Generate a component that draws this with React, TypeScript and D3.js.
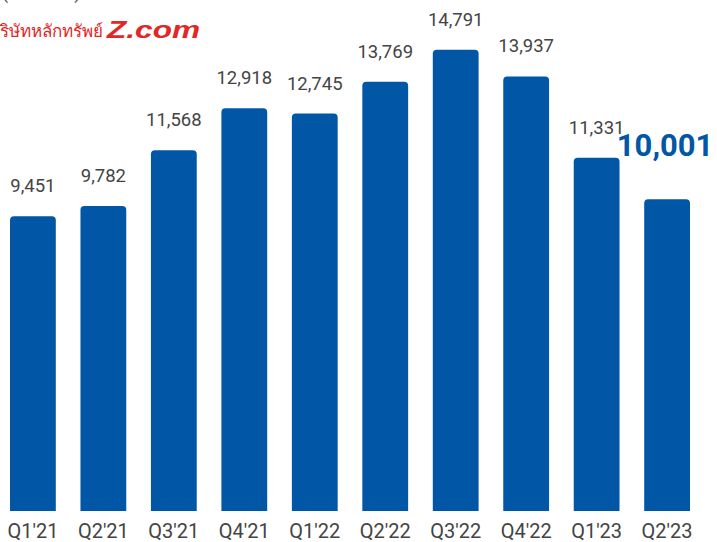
import React from "react";
import * as d3 from "d3";

const categories = ["Q1'21", "Q2'21", "Q3'21", "Q4'21", "Q1'22", "Q2'22", "Q3'22", "Q4'22", "Q1'23", "Q2'23"];
const values = [9451, 9782, 11568, 12918, 12745, 13769, 14791, 13937, 11331, 10001];
const brandThai = "บริษัทหลักทรัพย์";
const brandLatin = "Z.com";
const unitText = "(ล้านบาท)";

const W = 717;
const H = 542;
const BAR = "#0256a6";
const TXT = "#444444";
const RED = "#e32626";

function topRounded(x: number, y: number, w: number, h: number, r: number) {
  const rr = Math.min(r, w / 2, h);
  return `M${x},${y + h}V${y + rr}Q${x},${y} ${x + rr},${y}H${x + w - rr}Q${x + w},${y} ${x + w},${y + rr}V${y + h}Z`;
}

export default function App() {
  const x = d3.scaleBand<string>().domain(categories).range([10, 690]).paddingInner(0.35).paddingOuter(0);
  const y = d3.scaleLinear().domain([0, 15000]).range([511, 511 - 15000 * 0.03118]);
  const fmt = d3.format(",");
  const last = categories.length - 1;

  return (
    <div style={{ position: "absolute", left: 0, top: 0 }}>
      <svg width={W} height={H} style={{ display: "block", fontFamily: "Roboto, sans-serif" }}>
        <rect width={W} height={H} fill="#fff" />
        <text x={2} y={-1} fontSize={18} fill="#555">{unitText}</text>
        <text x={-11} y={37} fontSize={17} fill={RED} fontFamily="'Noto Sans', sans-serif">{brandThai}</text>
        <text x={107} y={38} fontSize={23} fontWeight={900} fontStyle="italic" fill={RED}
          fontFamily="'Liberation Sans', Arial, sans-serif" textLength={93} lengthAdjust="spacingAndGlyphs">{brandLatin}</text>
        {categories.map((c, i) => {
          const bx = x(c)!;
          const bw = x.bandwidth();
          const v = values[i];
          const top = y(v);
          const cx = bx + bw / 2;
          return (
            <g key={c}>
              <path d={topRounded(bx, top, bw, y(0) - top, 4)} fill={BAR} />
              {i === last ? (
                <text x={cx - 2} y={156} textAnchor="middle" fontSize={31} fontWeight={700} fill={BAR}>{fmt(v)}</text>
              ) : (
                <text x={cx} y={top - 24} textAnchor="middle" fontSize={18.5} fill={TXT}>{fmt(v)}</text>
              )}
              <text x={cx} y={538} textAnchor="middle" fontSize={20} fill={TXT}>{c}</text>
            </g>
          );
        })}
      </svg>
    </div>
  );
}
